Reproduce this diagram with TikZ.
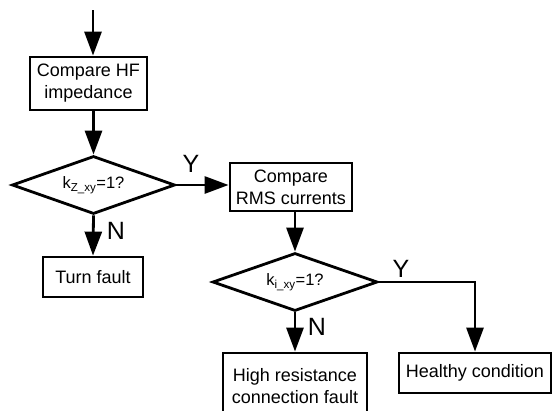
\documentclass[tikz,border=0pt]{standalone}
\usepackage{fontspec}
\setmainfont{Liberation Sans}
\usetikzlibrary{arrows.meta,shapes.geometric,positioning,calc}
\tikzset{
blk/.style={draw,line width=2.8pt,rectangle,inner sep=0pt,minimum width=#1pt,align=center,font=\fontsize{18}{22}\selectfont},
dec/.style={draw,line width=2.8pt,diamond,aspect=3,inner sep=0pt,minimum width=#1pt,minimum height=58pt,font=\fontsize{16.5}{20}\selectfont},
flow/.style={line width=2.8pt,-{Triangle[length=24pt,width=17pt]}},
yn/.style={inner sep=0pt,font=\fontsize{25}{30}\selectfont},
}

\begin{document}
\begin{tikzpicture}[x=1pt,y=-1pt]
  \useasboundingbox (0,0) rectangle (552,410);
  \clip (0,0) rectangle (552,410);

  \coordinate (start) at (93,10);
  \node[blk=117,minimum height=53pt] (cmphf) at (88.5,83.5) {Compare HF\\impedance};
  \node[dec=163] (dia1) at (93.5,185) {k\textsubscript{Z\_xy}=1?};
  \node[blk=100,minimum height=40pt] (turn) at (93,277) {Turn fault};
  \node[blk=122,minimum height=48pt] (cmprms) at (291,187) {Compare\\RMS currents};
  \node[dec=165] (dia2) at (295,282) {k\textsubscript{i\_xy}=1?};
  \node[blk=144,minimum height=66pt] (hr) at (295,386) {High resistance\\connection fault};
  \node[blk=152,minimum height=40pt] (healthy) at (475,373) {Healthy condition};

  \node[yn] (y1) at (191,164) {Y};
  \node[yn] (n1) at (116,231) {N};
  \node[yn] (y2) at (401,269) {Y};
  \node[yn] (n2) at (317,327) {N};

  \draw[flow] (start) -- (start |- cmphf.north);
  \draw[flow] (cmphf.south -| dia1) -- (dia1.north);
  \draw[flow] (dia1.south) -- (turn.north);
  \draw[flow] (dia1.east) -- (dia1.east -| cmprms.west);
  \draw[flow] (cmprms.south -| dia2) -- (dia2.north);
  \draw[flow] (dia2.south) -- (hr.north);
  \draw[flow] (dia2.east) -| (healthy.north);
\end{tikzpicture}
\end{document}
